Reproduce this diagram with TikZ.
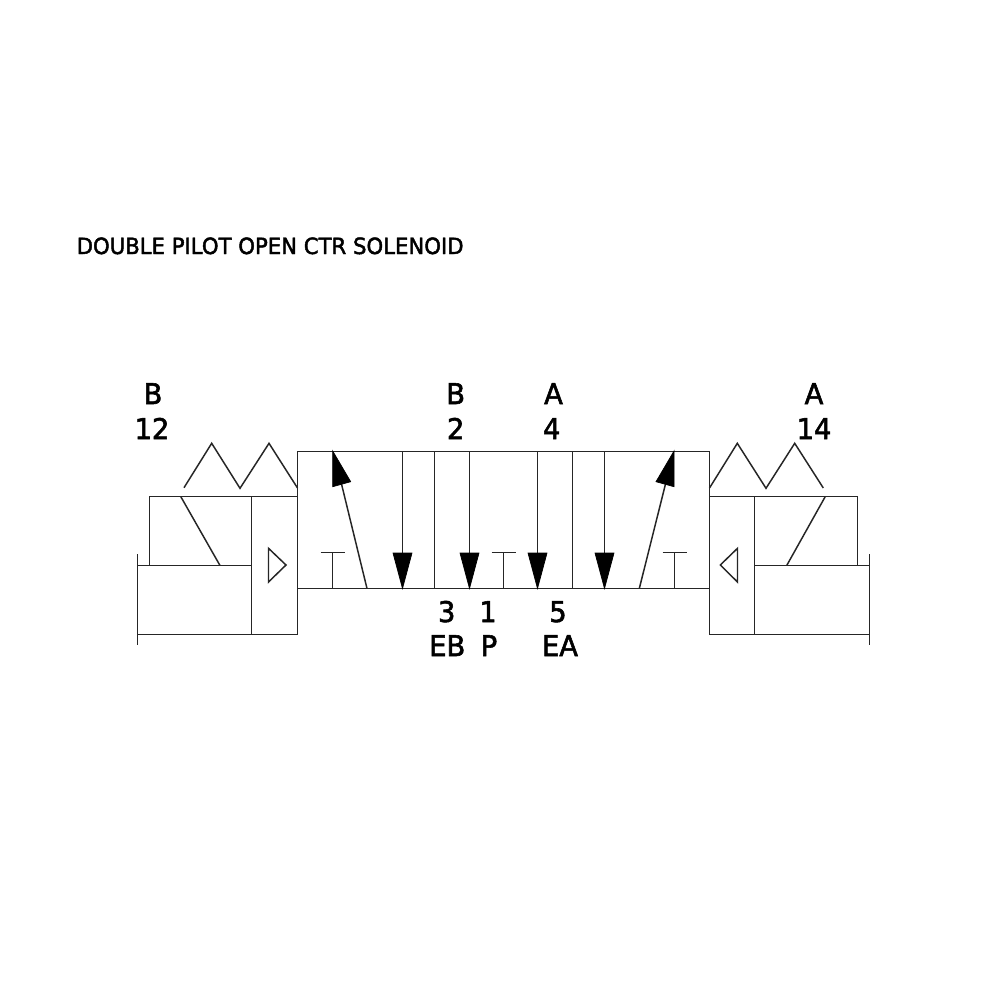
\documentclass[tikz,border=0pt]{standalone}
\usepackage{fontspec}
\setmainfont{DejaVu Sans}
\newfontfamily\titlefont{DejaVu Sans}[FakeBold=2,FakeStretch=0.95]
\newfontfamily\portfont{DejaVu Sans}[FakeBold=2,FakeStretch=0.96]
\tikzset{
  sym/.style={draw=black!85,line width=0.42pt,line join=miter},
  head/.style={fill=black,draw=black,line width=0.2pt,line join=miter},
  portlabel/.style={anchor=base,inner sep=0,font=\portfont\fontsize{8.1}{9}\selectfont},
  titlelabel/.style={anchor=base west,inner sep=0,font=\titlefont\fontsize{6.35}{8}\selectfont}
}
\begin{document}
\begin{tikzpicture}[x=0.01cm,y=-0.01cm]
\useasboundingbox[fill=white] (0,0) rectangle (1000,1000);
\node[titlelabel] (title) at (76,254) {DOUBLE PILOT OPEN CTR SOLENOID};
% port labels
\node[portlabel] (lb) at (153,404) {B};
\node[portlabel] (l12) at (152,439) {12};
\node[portlabel] (tb) at (455.7,404) {B};
\node[portlabel] (t2) at (455.7,439) {2};
\node[portlabel] (ta) at (553.5,404) {A};
\node[portlabel] (t4) at (551.7,439) {4};
\node[portlabel] (ra) at (814,404) {A};
\node[portlabel] (r14) at (814,439) {14};
\node[portlabel] (b3) at (446.7,622) {3};
\node[portlabel] (b1) at (488,622) {1};
\node[portlabel] (b5) at (558,622) {5};
\node[portlabel] (beb) at (447.3,656) {EB};
\node[portlabel] (bp) at (489,656) {P};
\node[portlabel] (bea) at (560,656) {EA};
% valve body
\draw[sym] (297.5,451.5) rectangle (709.5,588.5);
\draw[sym] (434.5,451.5) -- (434.5,588.5);
\draw[sym] (572.5,451.5) -- (572.5,588.5);
% straight arrows
\foreach \x in {402.5,469.5,537.5,604.5}{
  \draw[sym] (\x,451.5) -- (\x,555);
  \fill[head] (\x-9.5,553) -- (\x+9.5,553) -- (\x,588.5) -- cycle;
}
% tees
\foreach \x in {332.5,503.5,674.5}{
  \draw[sym] (\x,588.5) -- (\x,552.5);
  \draw[sym] (\x-12,552.5) -- (\x+12,552.5);
}
% slanted arrows
\draw[sym] (367,588.5) -- (341.5,484);
\fill[head] (332.7,451) -- (332.7,486.7) -- (350.7,481.7) -- cycle;
\draw[sym] (639.3,588.5) -- (665.5,484);
\fill[head] (674,451) -- (674,486.7) -- (656,481.7) -- cycle;
% left actuator
\draw[sym] (184,487.7) -- (211.7,443.3) -- (240,488.3) -- (269,443.3) -- (297.5,488);
\draw[sym] (149.5,565.5) -- (149.5,496.5) -- (297.5,496.5);
\draw[sym] (137.5,565.5) -- (251.5,565.5);
\draw[sym] (251.5,496.5) -- (251.5,634.5);
\draw[sym] (137.5,634.5) -- (297.5,634.5) -- (297.5,588.5);
\draw[sym] (137.5,554.3) -- (137.5,645);
\draw[sym] (180.7,496.5) -- (220,565.5);
\draw[sym] (268.5,548.3) -- (286,565) -- (268.5,582) -- cycle;
% right actuator
\draw[sym] (709.5,488) -- (737.3,443.3) -- (766,488.3) -- (794.7,443.3) -- (823.3,488);
\draw[sym] (709.5,496.5) -- (857.5,496.5) -- (857.5,565.5);
\draw[sym] (754.5,565.5) -- (869.5,565.5);
\draw[sym] (754.5,496.5) -- (754.5,634.5);
\draw[sym] (709.5,588.5) -- (709.5,634.5) -- (869.5,634.5);
\draw[sym] (869.5,554.3) -- (869.5,645);
\draw[sym] (825.3,496.5) -- (786.7,565.5);
\draw[sym] (737.5,548.3) -- (720.3,565) -- (737.5,582) -- cycle;
\end{tikzpicture}
\end{document}
